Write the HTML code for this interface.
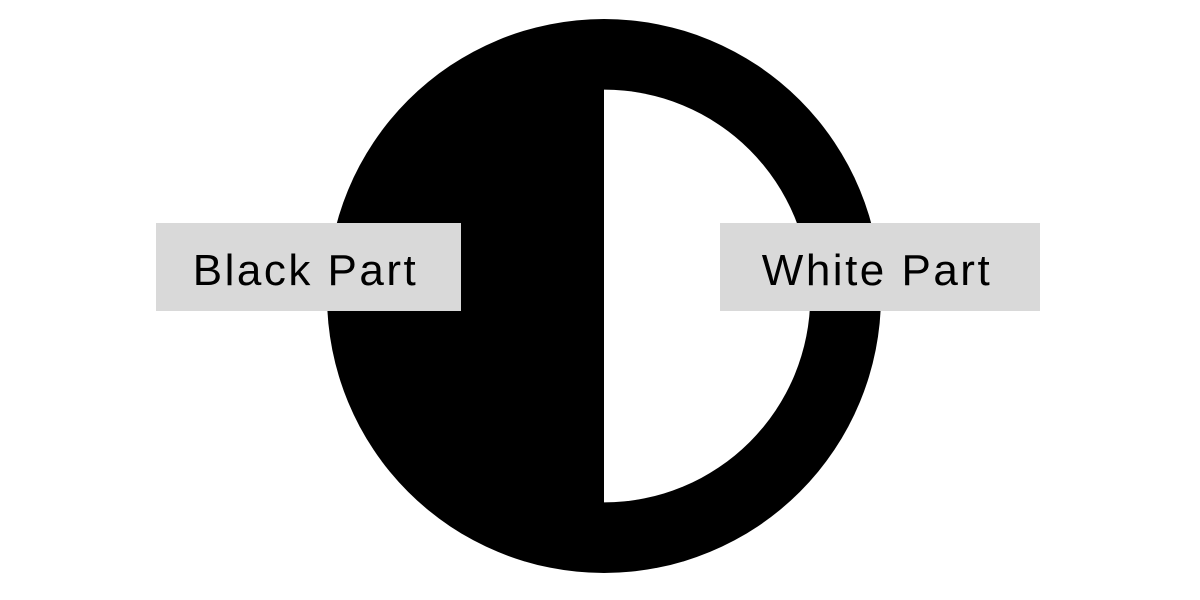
<!DOCTYPE html>
<html>
<head>
<meta charset="utf-8">
<style>
  html, body { margin:0; padding:0; background:#fff; }
  body { width:1200px; height:600px; overflow:hidden; }
  svg { display:block; }
  .lbl { font-family: "Liberation Sans", "DejaVu Sans", sans-serif; font-size:44px; letter-spacing:2.5px; fill:#000; }
</style>
</head>
<body>
<svg id="chart" width="1200" height="600" viewBox="0 0 1200 600"></svg>
<script>
const categories = ["Black Part", "White Part"];
const shares = [50, 50];
const innerRatio = [0.745];

const NS = "http://www.w3.org/2000/svg";
const svg = document.getElementById("chart");
const cx = 604, cy = 296, R = 277;
const total = shares.reduce((a, b) => a + b, 0);
const angle = v => (v / total) * 2 * Math.PI;
const rInner = R * innerRatio[0];

const bg = document.createElementNS(NS, "circle");
bg.setAttribute("cx", cx); bg.setAttribute("cy", cy); bg.setAttribute("r", R);
bg.setAttribute("fill", "#000");


svg.appendChild(bg);

const a0 = 0, a1 = angle(shares[1]);
const pt = (r, a) => [cx + r * Math.sin(a), cy - r * Math.cos(a)];
const [x0, y0] = pt(rInner, a0), [x1, y1] = pt(rInner, a1);
const large = (a1 - a0) > Math.PI ? 1 : 0;
const slice = document.createElementNS(NS, "path");
slice.setAttribute("d", `M${cx},${cy} L${x0},${y0} A${rInner},${rInner} 0 ${large} 1 ${x1},${y1} Z`);
slice.setAttribute("fill", "#fff");


svg.appendChild(slice);

const boxes = [
  { x: 156, w: 305 },
  { x: 720, w: 320 }
];
categories.forEach((c, i) => {
  const g = document.createElementNS(NS, "g");
  
  
  const r = document.createElementNS(NS, "rect");
  r.setAttribute("x", boxes[i].x); r.setAttribute("y", 223);
  r.setAttribute("width", boxes[i].w); r.setAttribute("height", 88);
  r.setAttribute("fill", "#d9d9d9");
  g.appendChild(r);
  const t = document.createElementNS(NS, "text");
  t.setAttribute("x", boxes[i].x + boxes[i].w / 2 - 3);
  t.setAttribute("y", 285);
  t.setAttribute("text-anchor", "middle");
  t.setAttribute("class", "lbl");
  t.textContent = c;
  g.appendChild(t);
  svg.appendChild(g);
});
</script>
</body>
</html>
